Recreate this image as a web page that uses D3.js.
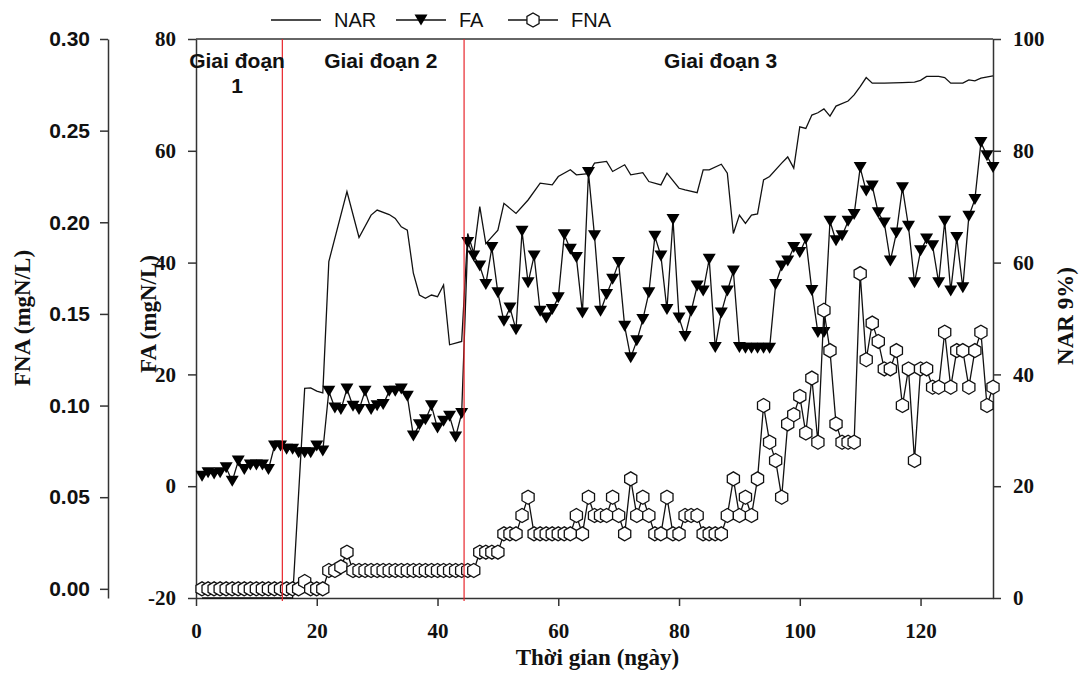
<!DOCTYPE html>
<html>
<head>
<meta charset="utf-8">
<script src="https://cdn.jsdelivr.net/npm/d3@7"></script>
<style>
  body { margin: 0; background: #fff; }
  svg text { fill: #111; }
</style>
</head>
<body>
<div class="chart"></div>
<script>
// daily samples, day 1 .. 132
const days = d3.range(1, 133);

// FA (mgN/L)
const fa = [
  1.8, 2.4, 2.2, 2.4, 3.3, 0.9, 4.5, 3.0, 3.8, 3.8,
  3.8, 3.0, 7.2, 7.2, 6.6, 6.6, 6.0, 6.0, 6.0, 7.2,
  6.3, 17.0, 14.0, 13.7, 17.4, 14.3, 13.7, 17.0, 13.7, 14.4,
  14.6, 17.0, 17.0, 17.4, 16.1, 9.0, 11.0, 11.9, 14.4, 10.4,
  11.6, 12.5, 8.8, 13.0, 43.6, 41.2, 39.4, 36.1, 42.7, 34.6,
  29.5, 31.9, 28.0, 45.6, 36.4, 41.2, 31.3, 30.1, 31.6, 33.7,
  45.0, 42.4, 40.9, 31.0, 56.1, 44.8, 31.3, 34.3, 37.0, 40.0,
  28.6, 23.0, 26.0, 29.8, 34.6, 44.7, 41.2, 31.6, 47.7, 30.1,
  26.8, 31.3, 35.8, 34.9, 40.6, 24.8, 31.0, 34.9, 38.5, 24.8,
  24.7, 24.7, 24.7, 24.7, 24.7, 36.1, 39.4, 40.3, 42.7, 41.8,
  44.2, 35.0, 27.5, 27.5, 47.4, 43.9, 44.8, 47.4, 48.6, 57.0,
  52.8, 53.7, 48.9, 47.1, 40.3, 45.3, 53.4, 46.5, 36.4, 42.1,
  44.2, 43.0, 36.4, 47.4, 34.9, 44.5, 35.5, 48.3, 51.3, 61.5,
  59.1, 57.0
];

// FNA (mgN/L)
const fna = [
  0, 0, 0, 0, 0, 0, 0, 0, 0, 0,
  0, 0, 0, 0, 0, 0, 0, 0.004, 0, 0,
  0, 0.01, 0.01, 0.012, 0.02, 0.01, 0.01, 0.01, 0.01, 0.01,
  0.01, 0.01, 0.01, 0.01, 0.01, 0.01, 0.01, 0.01, 0.01, 0.01,
  0.01, 0.01, 0.01, 0.01, 0.01, 0.01, 0.02, 0.02, 0.02, 0.02,
  0.03, 0.03, 0.03, 0.04, 0.05, 0.03, 0.03, 0.03, 0.03, 0.03,
  0.03, 0.03, 0.04, 0.03, 0.05, 0.04, 0.04, 0.04, 0.05, 0.04,
  0.03, 0.06, 0.04, 0.05, 0.04, 0.03, 0.03, 0.05, 0.03, 0.03,
  0.04, 0.04, 0.04, 0.03, 0.03, 0.03, 0.03, 0.04, 0.06, 0.04,
  0.05, 0.04, 0.06, 0.10, 0.08, 0.07, 0.05, 0.09, 0.095, 0.105,
  0.085, 0.115, 0.08, 0.152, 0.13, 0.09, 0.08, 0.08, 0.08, 0.172,
  0.125, 0.145, 0.135, 0.12, 0.12, 0.13, 0.10, 0.12, 0.07, 0.12,
  0.12, 0.11, 0.11, 0.14, 0.11, 0.13, 0.13, 0.11, 0.13, 0.14,
  0.10, 0.11
];

// NAR (%) plain line, its own vertices
const narDays = [
  1, 16, 18, 19, 20, 21, 22, 25, 27, 29, 30, 32, 33, 34, 35, 36, 37, 38, 39, 40,
  41, 42, 43, 44, 45, 46, 47, 48, 50, 51, 53, 55, 57, 59, 60, 62, 63, 65, 66, 68,
  69, 71, 72, 74, 75, 77, 78, 80, 81, 83, 84, 85, 87, 88, 89, 90, 91, 92, 93, 94,
  95, 97, 98, 99, 100, 101, 102, 103, 104, 105, 106, 108, 109, 110, 111, 112, 114, 117, 119, 120,
  121, 123, 124, 125, 127, 128, 129, 130, 132
];
const nar = [
  0, 0, 37.5, 37.6, 37.0, 36.7, 60.2, 72.7, 64.5, 68.5, 69.4, 68.6, 67.9, 66.4, 65.8, 58.1, 54.2, 53.6, 54.2, 53.9,
  56.0, 45.3, 45.6, 45.9, 65.2, 61.7, 70.0, 63.4, 65.8, 70.6, 68.8, 71.2, 74.2, 73.9, 75.4, 76.6, 75.7, 75.9, 77.8, 78.1,
  76.3, 77.5, 75.7, 76.1, 74.5, 73.9, 76.0, 73.3, 73.0, 72.5, 76.6, 76.6, 77.6, 76.0, 65.2, 68.5, 67.0, 68.5, 68.7, 74.8,
  75.4, 77.8, 78.9, 76.9, 84.3, 84.0, 86.4, 86.8, 87.5, 86.2, 88.0, 88.9, 90.0, 91.5, 93.1, 92.1, 92.1, 92.2, 92.3, 92.6,
  93.3, 93.3, 93.1, 92.1, 92.1, 92.7, 92.5, 93.0, 93.4
];

const dayTicks = [0, 20, 40, 60, 80, 100, 120];
const faTicks = [-20, 0, 20, 40, 60, 80];
const fnaTicks = [0, 0.05, 0.10, 0.15, 0.20, 0.25, 0.30];
const narTicks = [0, 20, 40, 60, 80, 100];

const stageBreaks = [14.3, 44.4];
const stageNames = [["Giai đoạn", "1"], ["Giai đoạn 2"], ["Giai đoạn 3"]];
const stageCenters = [6.8, 30.6, 86.9];

const width = 1081;
const height = 679;
const plotLeft = 196, plotRight = 993, plotTop = 39, plotBottom = 598;

const svg = d3.select("div.chart")
  .append("svg")
  .attr("width", width)
  .attr("height", height);

svg.append("rect").attr("width", width).attr("height", height).attr("fill", "#fff");

const x = d3.scaleLinear().domain([0, 132]).range([plotLeft, plotRight]);
const yFA = d3.scaleLinear().domain([-20, 80]).range([plotBottom, plotTop]);
const yNAR = d3.scaleLinear().domain([0, 100]).range([plotBottom, plotTop]);
const yFNA = d3.scaleLinear().domain([-0.005, 0.30]).range([plotBottom, plotTop]);

const serif = "'Liberation Serif', 'Times New Roman', serif";
const sans = "'Liberation Sans', Arial, sans-serif";
const plain = d => String(d);   // keep the hyphen minus of the original

function styleAxis(g, font, size) {
  g.selectAll(".domain").attr("stroke", "#333").attr("stroke-width", 1.5);
  g.selectAll(".tick line").attr("stroke", "#333").attr("stroke-width", 1.5);
  g.selectAll(".tick text")
    .attr("font-family", font)
    .attr("font-size", size)
    .attr("font-weight", "bold")
    .attr("fill", "#111");
}

// x axis
svg.append("g")
  .attr("transform", `translate(0,${plotBottom})`)
  .call(d3.axisBottom(x).tickValues(dayTicks).tickFormat(plain).tickSize(8).tickSizeOuter(0).tickPadding(17))
  .call(g => styleAxis(g, serif, 21));

// FA axis (inner left)
svg.append("g")
  .attr("transform", `translate(${plotLeft},0)`)
  .call(d3.axisLeft(yFA).tickValues(faTicks).tickFormat(plain).tickSize(8).tickSizeOuter(0).tickPadding(12))
  .call(g => styleAxis(g, serif, 21));

// FNA axis (outer left)
svg.append("g")
  .attr("transform", `translate(108,0)`)
  .call(d3.axisLeft(yFNA).tickValues(fnaTicks).tickFormat(d3.format(".2f")).tickSize(8).tickSizeOuter(0).tickPadding(10))
  .call(g => styleAxis(g, sans, 21));

// NAR axis (right)
svg.append("g")
  .attr("transform", `translate(${plotRight},0)`)
  .call(d3.axisRight(yNAR).tickValues(narTicks).tickFormat(plain).tickSize(8).tickSizeOuter(0).tickPadding(12))
  .call(g => styleAxis(g, serif, 21));

// top frame line
svg.append("line")
  .attr("x1", plotLeft).attr("x2", plotRight)
  .attr("y1", plotTop).attr("y2", plotTop)
  .attr("stroke", "#333").attr("stroke-width", 1.5);

// axis titles
svg.append("text")
  .attr("transform", `translate(${(plotLeft + plotRight) / 2 + 3},665)`)
  .attr("text-anchor", "middle")
  .attr("font-family", serif).attr("font-weight", "bold").attr("font-size", 23)
  .text("Thời gian (ngày)");

function vTitle(xPos, yPos, label) {
  svg.append("text")
    .attr("transform", `translate(${xPos},${yPos}) rotate(-90)`)
    .attr("text-anchor", "middle")
    .attr("font-family", serif).attr("font-weight", "bold").attr("font-size", 23)
    .text(label);
}
vTitle(30, 318, "FNA (mgN/L)");
vTitle(156, 314, "FA (mgN/L)");
vTitle(1073, 316, "NAR 9%)");

// markers
const triPath = "M-6.5,-5.5L6.5,-5.5L0,5.5Z";
const hexPath = (() => {
  const r = 7;
  const pts = d3.range(6).map(i => {
    const a = Math.PI / 2 + i * Math.PI / 3;
    return [r * Math.cos(a), r * Math.sin(a)];
  });
  return "M" + pts.map(p => p.join(",")).join("L") + "Z";
})();

// NAR line
svg.append("path")
  .datum(narDays.map((d, i) => [d, nar[i]]))
  .attr("fill", "none")
  .attr("stroke", "#111")
  .attr("stroke-width", 1.3)
  .attr("d", d3.line().x(d => x(d[0])).y(d => yNAR(d[1])));

// FA line + triangles
svg.append("path")
  .datum(days.map((d, i) => [d, fa[i]]))
  .attr("fill", "none")
  .attr("stroke", "#111")
  .attr("stroke-width", 1.3)
  .attr("d", d3.line().x(d => x(d[0])).y(d => yFA(d[1])));

svg.append("g")
  .selectAll("path")
  .data(days.map((d, i) => [d, fa[i]]))
  .enter()
  .append("path")
  .attr("d", triPath)
  .attr("transform", d => `translate(${x(d[0])},${yFA(d[1])})`)
  .attr("fill", "#000");

// FNA line + hexagons
svg.append("path")
  .datum(days.map((d, i) => [d, fna[i]]))
  .attr("fill", "none")
  .attr("stroke", "#111")
  .attr("stroke-width", 1.3)
  .attr("d", d3.line().x(d => x(d[0])).y(d => yFNA(d[1])));

svg.append("g")
  .selectAll("path")
  .data(days.map((d, i) => [d, fna[i]]))
  .enter()
  .append("path")
  .attr("d", hexPath)
  .attr("transform", d => `translate(${x(d[0])},${yFNA(d[1])})`)
  .attr("fill", "#fff")
  .attr("stroke", "#111")
  .attr("stroke-width", 1.3);

// stage separators
svg.append("g")
  .selectAll("line")
  .data(stageBreaks)
  .enter()
  .append("line")
  .attr("x1", d => x(d)).attr("x2", d => x(d))
  .attr("y1", plotTop).attr("y2", plotBottom + 3)
  .attr("stroke", "#e8252b")
  .attr("stroke-width", 1.2);

// stage labels
stageNames.forEach((lines, i) => {
  const t = svg.append("text")
    .attr("text-anchor", "middle")
    .attr("font-family", sans).attr("font-weight", "bold").attr("font-size", 21)
    .attr("x", x(stageCenters[i]))
    .attr("y", 68);
  lines.forEach((s, j) => {
    t.append("tspan").attr("x", x(stageCenters[i])).attr("dy", j === 0 ? 0 : 25).text(s);
  });
});

// legend
const legend = [
  { name: "NAR", x0: 271, mark: null },
  { name: "FA", x0: 396, mark: triPath },
  { name: "FNA", x0: 508, mark: hexPath }
];
legend.forEach(l => {
  const g = svg.append("g").attr("transform", `translate(${l.x0},20)`);
  g.append("line").attr("x1", 0).attr("x2", 50).attr("stroke", "#111").attr("stroke-width", 1.3);
  if (l.mark) {
    g.append("path").attr("d", l.mark).attr("transform", "translate(25,0)")
      .attr("fill", l.name === "FA" ? "#000" : "#fff")
      .attr("stroke", l.name === "FA" ? "none" : "#111").attr("stroke-width", 1.3);
  }
  g.append("text").attr("x", 63).attr("y", 7)
    .attr("font-family", sans).attr("font-size", 20)
    .text(l.name);
});
</script>
</body>
</html>
